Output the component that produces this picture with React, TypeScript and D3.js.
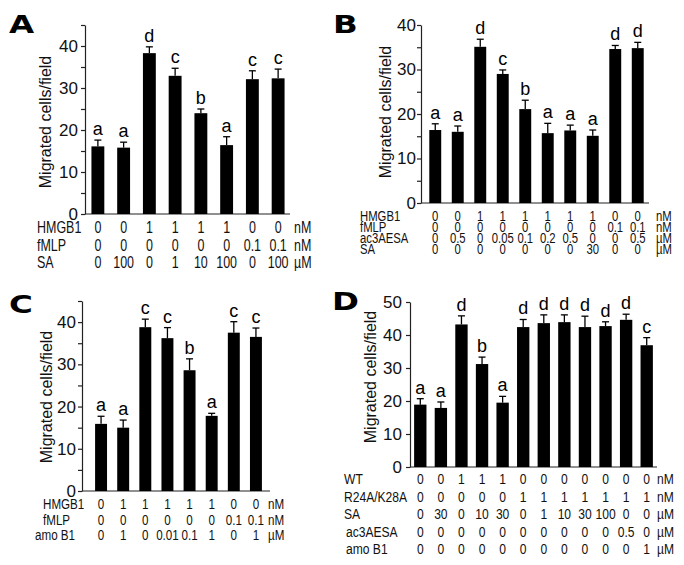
import React, { useEffect, useRef } from 'react';
import * as d3 from 'd3';

// ---- Panel A ----
const aValues = [16.1, 15.8, 38.3, 32.9, 24.0, 16.4, 32.1, 32.3];
const aErrors = [1.5, 1.3, 1.5, 1.8, 1.0, 2.0, 2.0, 2.2];
const aLetters = ['a', 'a', 'd', 'c', 'b', 'a', 'c', 'c'];
const aRowLabels = ['HMGB1', 'fMLP', 'SA'];
const aRowUnits = ['nM', 'nM', 'µM'];
const aRowValues = [
  ['0', '0', '1', '1', '1', '1', '0', '0'],
  ['0', '0', '0', '0', '0', '0', '0.1', '0.1'],
  ['0', '100', '0', '1', '10', '100', '0', '100'],
];

// ---- Panel B ----
const bValues = [16.4, 16.0, 35.1, 29.0, 21.1, 15.7, 16.3, 15.1, 34.6, 34.8];
const bErrors = [1.4, 1.3, 1.7, 0.9, 2.0, 2.2, 1.2, 1.3, 0.8, 1.3];
const bLetters = ['a', 'a', 'd', 'c', 'b', 'a', 'a', 'a', 'd', 'd'];
const bRowLabels = ['HMGB1', 'fMLP', 'ac3AESA', 'SA'];
const bRowUnits = ['nM', 'nM', 'µM', 'µM'];
const bRowValues = [
  ['0', '0', '1', '1', '1', '1', '1', '1', '0', '0'],
  ['0', '0', '0', '0', '0', '0', '0', '0', '0.1', '0.1'],
  ['0', '0.5', '0', '0.05', '0.1', '0.2', '0.5', '0', '0', '0.5'],
  ['0', '0', '0', '0', '0', '0', '0', '30', '0', '0'],
];

// ---- Panel C ----
const cValues = [15.9, 15.0, 38.8, 36.2, 28.6, 17.8, 37.5, 36.5];
const cErrors = [1.8, 1.8, 1.9, 2.5, 2.7, 0.6, 2.6, 2.1];
const cLetters = ['a', 'a', 'c', 'c', 'b', 'a', 'c', 'c'];
const cRowLabels = ['HMGB1', 'fMLP', 'amo B1'];
const cRowUnits = ['nM', 'nM', 'µM'];
const cRowValues = [
  ['0', '1', '1', '1', '1', '1', '0', '0'],
  ['0', '0', '0', '0', '0', '0', '0.1', '0.1'],
  ['0', '1', '0', '0.01', '0.1', '1', '0', '1'],
];

// ---- Panel D ----
const dValues = [18.9, 17.9, 43.2, 31.2, 19.5, 42.4, 43.6, 43.9, 42.4, 42.7, 44.6, 36.9];
const dErrors = [1.8, 1.8, 2.6, 2.1, 1.9, 2.3, 2.5, 2.2, 3.3, 1.3, 1.7, 2.3];
const dLetters = ['a', 'a', 'd', 'b', 'a', 'd', 'd', 'd', 'd', 'd', 'd', 'c'];
const dRowLabels = ['WT', 'R24A/K28A', 'SA', 'ac3AESA', 'amo B1'];
const dRowUnits = ['nM', 'nM', 'µM', 'µM', 'µM'];
const dRowValues = [
  ['0', '0', '1', '1', '1', '0', '0', '0', '0', '0', '0', '0'],
  ['0', '0', '0', '0', '0', '1', '1', '1', '1', '1', '1', '1'],
  ['0', '30', '0', '10', '30', '0', '1', '10', '30', '100', '0', '0'],
  ['0', '0', '0', '0', '0', '0', '0', '0', '0', '0', '0.5', '0'],
  ['0', '0', '0', '0', '0', '0', '0', '0', '0', '0', '0', '1'],
];

const FONT = "'Liberation Sans', Arial, Helvetica, sans-serif";

// layout for each panel (pixels)
const panels = [
  {
    name: 'A', values: aValues, errors: aErrors, letters: aLetters,
    rowLabels: aRowLabels, rowUnits: aRowUnits, rowValues: aRowValues,
    yMax: 45, minorStep: 5, majorStep: 10, y0: 214, yTop: 25,
    axisX: 85, axisEnd: 290, xRange: [85, 291], barFrac: 0.5, labelGap: 3,
    letterPos: [9, 33], ylabel: [51, 122],
    rowX: [37, 37, 37], rowY: [233, 251, 268], unitX: 294, rowFont: 16, rowScale: 0.78,
  },
  {
    name: 'B', values: bValues, errors: bErrors, letters: bLetters,
    rowLabels: bRowLabels, rowUnits: bRowUnits, rowValues: bRowValues,
    yMax: 40, minorStep: 5, majorStep: 10, y0: 203, yTop: 25,
    axisX: 421, axisEnd: 649, xRange: [424, 649], barFrac: 0.53, labelGap: 1,
    letterPos: [333, 33], ylabel: [391, 112],
    rowX: [360, 360, 360, 360], rowY: [221, 232, 243, 254], unitX: 656, rowFont: 14.5, rowScale: 0.78,
  },
  {
    name: 'C', values: cValues, errors: cErrors, letters: cLetters,
    rowLabels: cRowLabels, rowUnits: cRowUnits, rowValues: cRowValues,
    yMax: 45, minorStep: 5, majorStep: 10, y0: 491, yTop: 301,
    axisX: 82, axisEnd: 270, xRange: [90, 267], barFrac: 0.54, labelGap: 2,
    letterPos: [9, 313], ylabel: [52, 397],
    rowX: [43, 43, 35], rowY: [509, 525, 540], unitX: 268, rowFont: 15.5, rowScale: 0.75,
  },
  {
    name: 'D', values: dValues, errors: dErrors, letters: dLetters,
    rowLabels: dRowLabels, rowUnits: dRowUnits, rowValues: dRowValues,
    yMax: 50, minorStep: 10, majorStep: 10, y0: 467, yTop: 302,
    axisX: 410, axisEnd: 657, xRange: [410, 657], barFrac: 0.6, labelGap: 4,
    letterPos: [332, 310], ylabel: [376, 377],
    rowX: [344, 344, 344, 346, 346], rowY: [484, 502, 519, 537, 554], unitX: 657, rowFont: 15.5, rowScale: 0.78,
  },
];

const drawPanel = (root, p) => {
  const g = root.append('g');
  const y = d3.scaleLinear().domain([0, p.yMax]).range([p.y0, p.yTop]);
  const x = d3
    .scaleBand()
    .domain(d3.range(p.values.length))
    .range(p.xRange);
  const bw = x.bandwidth() * p.barFrac;

  // y axis: ticks every minorStep, numbers only on the major ones
  const axis = d3
    .axisLeft(y)
    .tickValues(d3.range(0, p.yMax + 0.001, p.minorStep))
    .tickSize(4)
    .tickSizeOuter(0)
    .tickPadding(p.labelGap)
    .tickFormat((d) => (d % p.majorStep === 0 ? String(d) : ''));
  const ax = g
    .append('g')
    .attr('transform', `translate(${p.axisX},0)`)
    .call(axis);
  ax.attr('font-family', FONT).attr('font-size', 17);
  ax.select('.domain').attr('stroke', '#222').attr('stroke-width', 1.2);
  ax.selectAll('.tick line').attr('stroke', '#222').attr('stroke-width', 1.2);
  ax.selectAll('.tick text').attr('fill', '#111');

  // x axis line
  g.append('line')
    .attr('x1', p.axisX)
    .attr('x2', p.axisEnd)
    .attr('y1', p.y0)
    .attr('y2', p.y0)
    .attr('stroke', '#222')
    .attr('stroke-width', 1.2);

  // bars
  g.selectAll('rect.bar')
    .data(p.values)
    .enter()
    .append('rect')
    .attr('class', 'bar')
    .attr('x', (d, i) => x(i) + (x.bandwidth() - bw) / 2)
    .attr('y', (d) => y(d))
    .attr('width', bw)
    .attr('height', (d) => p.y0 - y(d))
    .attr('fill', '#000');

  // error bars + significance letters
  p.values.forEach((v, i) => {
    const cx = x(i) + x.bandwidth() / 2;
    const top = y(v + p.errors[i]);
    g.append('line')
      .attr('x1', cx).attr('x2', cx)
      .attr('y1', y(v)).attr('y2', top)
      .attr('stroke', '#000').attr('stroke-width', 1.3);
    g.append('line')
      .attr('x1', cx - 3.5).attr('x2', cx + 3.5)
      .attr('y1', top).attr('y2', top)
      .attr('stroke', '#000').attr('stroke-width', 1.3);
    g.append('text')
      .attr('x', cx)
      .attr('y', top - 5)
      .attr('text-anchor', 'middle')
      .attr('font-family', FONT)
      .attr('font-size', 18)
      .attr('fill', '#000')
      .text(p.letters[i]);
  });

  // y label
  g.append('text')
    .attr('transform', `translate(${p.ylabel[0]},${p.ylabel[1]}) rotate(-90)`)
    .attr('text-anchor', 'middle')
    .attr('font-family', FONT)
    .attr('font-size', 16)
    .attr('fill', '#111')
    .text('Migrated cells/field');

  // panel letter
  g.append('text')
    .attr('transform', `translate(${p.letterPos[0]},${p.letterPos[1]}) scale(1.3,1)`)
    .attr('font-family', "'DejaVu Sans', Arial, sans-serif")
    .attr('font-weight', 'bold')
    .attr('font-size', 25)
    .attr('fill', '#000')
    .text(p.name);

  // condition rows under the axis
  const rowText = (tx, ty, anchor, str) =>
    g.append('text')
      .attr('transform', `translate(${tx},${ty}) scale(${p.rowScale},1)`)
      .attr('text-anchor', anchor)
      .attr('font-family', FONT)
      .attr('font-size', p.rowFont)
      .attr('fill', '#111')
      .text(str);

  p.rowLabels.forEach((label, r) => {
    const ty = p.rowY[r];
    rowText(p.rowX[r], ty, 'start', label);
    p.rowValues[r].forEach((val, i) => {
      rowText(x(i) + x.bandwidth() / 2, ty, 'middle', val);
    });
    rowText(p.unitX, ty, 'start', p.rowUnits[r]);
  });
};

const App = () => {
  const svgRef = useRef(null);

  useEffect(() => {
    const svg = d3.select(svgRef.current);
    svg.selectAll('*').remove();
    svg.append('rect').attr('width', 684).attr('height', 565).attr('fill', '#fff');
    panels.forEach((p) => drawPanel(svg, p));
  }, []);

  return (
    <svg
      ref={svgRef}
      width={684}
      height={565}
      style={{ position: 'absolute', left: 0, top: 0, display: 'block' }}
    />
  );
};

export default App;
